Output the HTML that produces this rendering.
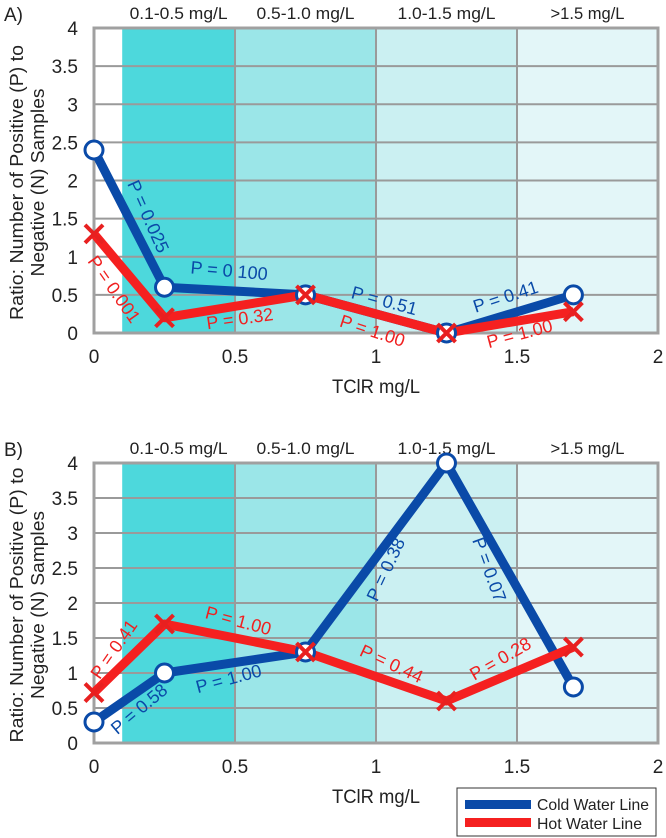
<!DOCTYPE html>
<html><head><meta charset="utf-8">
<style>
body{margin:0;background:#fff;}
svg{display:block;font-family:"Liberation Sans",sans-serif;}
</style></head>
<body>
<svg id="chart" width="666" height="838" viewBox="0 0 666 838"></svg>
<script>
const xTicks=[0,0.5,1,1.5,2];
const yTicks=[0,0.5,1,1.5,2,2.5,3,3.5,4];
const bandStarts=[0.1,0.5,1.0,1.5];
const bandEnds=[0.5,1.0,1.5,2.0];
const bandLabels=["0.1-0.5 mg/L","0.5-1.0 mg/L","1.0-1.5 mg/L",">1.5 mg/L"];
const bandColors=["#4dd8dc","#9be6e8","#cbf0f2","#e3f6f8"];
const xVals=[0,0.25,0.75,1.25,1.7];
const coldA=[2.4,0.6,0.5,0,0.5];
const hotA=[1.3,0.2,0.5,0,0.28];
const coldB=[0.3,1.0,1.3,4.0,0.8];
const hotB=[0.72,1.7,1.3,0.6,1.37];
const pLabelsA=[["P = 0.025",147,217,66,"#0a4aa8"],["P = 0.001",113,290,55,"#f02020"],["P = 0 100",229,272,5,"#0a4aa8"],["P = 0.32",240,320,-8,"#f02020"],["P = 0.51",384,302,15,"#0a4aa8"],["P = 1.00",372,332,18,"#f02020"],["P = 0.41",506,298,-18,"#0a4aa8"],["P = 1.00",520,335,-15,"#f02020"]];
const pLabelsB=[["P = 0.41",115,650,-55,"#f02020"],["P = 0.58",140,710,-40,"#0a4aa8"],["P = 1.00",238,622,15,"#f02020"],["P = 1.00",229,680,-15,"#0a4aa8"],["P = 0.38",387,570,-65,"#0a4aa8"],["P = 0.07",488,570,70,"#0a4aa8"],["P = 0.44",391,665,25,"#f02020"],["P = 0.28",501,660,-30,"#f02020"]];

const NS="http://www.w3.org/2000/svg";
const svg=document.getElementById('chart');
function mk(tag,attrs,parent,text){const e=document.createElementNS(NS,tag);for(const k in attrs)e.setAttribute(k,attrs[k]);if(text!==undefined)e.textContent=text;(parent||svg).appendChild(e);return e;}

function panel(id,letter,top,bottom,cold,hot,labels){
  const L=94,R=658;
  const sx=v=>L+(R-L)*v/2;
  const sy=v=>bottom-(bottom-top)*v/4;
  const g=mk('g',{});
  
  
  const pl=mk('text',{x:4,y:top-7,'font-size':19,fill:'#222'},g,letter);
  
  
  bandStarts.forEach((b,i)=>{
    const r=mk('rect',{x:sx(b),y:top,width:sx(bandEnds[i])-sx(b),height:bottom-top,fill:bandColors[i]},g);
    
    
    const t=mk('text',{x:(sx(b)+sx(bandEnds[i]))/2,y:top-9,'font-size':17,'text-anchor':'middle',fill:'#222',textLength:98,lengthAdjust:'spacingAndGlyphs'},g,bandLabels[i]);
    if(i==3){t.setAttribute('textLength',74);}
    
    
  });
  yTicks.forEach(v=>{
    const ln=mk('line',{x1:L,x2:R,y1:sy(v),y2:sy(v),stroke:'#9a9a9a','stroke-width':2},g);
    
    
    const t=mk('text',{x:L-16,y:sy(v)+7,'font-size':19,'text-anchor':'end',fill:'#222'},g,String(v));
    
    
  });
  xTicks.forEach(v=>{
    if(v>0&&v<2){const ln=mk('line',{x1:sx(v),x2:sx(v),y1:top,y2:bottom,stroke:'#9a9a9a','stroke-width':2},g);
    
    }
    const t=mk('text',{x:sx(v),y:bottom+30,'font-size':19,'text-anchor':'middle',fill:'#222'},g,String(v));
    
    
  });
  const fr=mk('rect',{x:L,y:top,width:R-L,height:bottom-top,fill:'none',stroke:'#a0a0a0','stroke-width':3},g);
  
  
  const xt=mk('text',{x:376,y:bottom+60,'font-size':19,'text-anchor':'middle',fill:'#222',textLength:88,lengthAdjust:'spacingAndGlyphs'},g,'TClR mg/L');
  
  
  const cy=(top+bottom)/2+2;
  const yt=mk('text',{transform:`translate(23,${cy}) rotate(-90)`,'font-size':18,'text-anchor':'middle',fill:'#222'},g);
  
  
  mk('tspan',{x:0,dy:0,textLength:275,lengthAdjust:'spacingAndGlyphs'},yt,'Ratio: Number of Positive (P) to');
  mk('tspan',{x:0,dy:21,textLength:188,lengthAdjust:'spacingAndGlyphs'},yt,'Negative (N) Samples');
  const cp=mk('polyline',{points:xVals.map((x,i)=>sx(x)+','+sy(cold[i])).join(' '),fill:'none',stroke:'#0a4aa8','stroke-width':9,'stroke-linejoin':'round'},g);
  
  
  const hp=mk('polyline',{points:xVals.map((x,i)=>sx(x)+','+sy(hot[i])).join(' '),fill:'none',stroke:'#f52020','stroke-width':9,'stroke-linejoin':'round'},g);
  
  
  xVals.forEach((x,i)=>{
    const c=mk('circle',{cx:sx(x),cy:sy(cold[i]),r:9,fill:'#fff',stroke:'#0a4aa8','stroke-width':3},g);
    
    
  });
  xVals.forEach((x,i)=>{
    const px=sx(x),py=sy(hot[i]),d=9;
    const m=mk('path',{d:`M${px-d},${py-d}L${px+d},${py+d}M${px-d},${py+d}L${px+d},${py-d}`,stroke:'#e82020','stroke-width':4,fill:'none'},g);
    
    
  });
  labels.forEach(l=>{
    const t=mk('text',{transform:`translate(${l[1]},${l[2]}) rotate(${l[3]})`,'font-size':18,'text-anchor':'middle','dominant-baseline':'middle',fill:l[4]},g,l[0]);
    
    
  });
}
panel('a','A)',28,333,coldA,hotA,pLabelsA);
panel('b','B)',463,743,coldB,hotB,pLabelsB);

const lg=mk('g',{});


mk('rect',{x:457,y:788,width:199,height:48,fill:'#fff',stroke:'#333','stroke-width':1},lg);
mk('rect',{x:465,y:800,width:66,height:9,fill:'#0a4aa8'},lg);
mk('rect',{x:465,y:818,width:66,height:9,fill:'#f52020'},lg);
const l1=mk('text',{x:537,y:810,'font-size':16,fill:'#222',textLength:112,lengthAdjust:'spacingAndGlyphs'},lg,'Cold Water Line');


const l2=mk('text',{x:537,y:829,'font-size':16,fill:'#222',textLength:105,lengthAdjust:'spacingAndGlyphs'},lg,'Hot Water Line');


</script>
</body></html>
